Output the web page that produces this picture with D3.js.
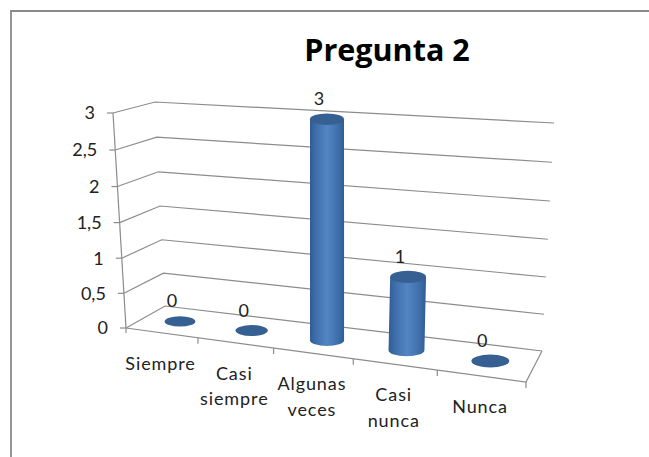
<!DOCTYPE html>
<html>
<head>
<meta charset="utf-8">
<script src="https://cdnjs.cloudflare.com/ajax/libs/d3/7.8.5/d3.min.js"></script>
<style>
  body { margin: 0; background: #fff; }
  text { font-family: Lato, "Open Sans", sans-serif; fill: #222; }
</style>
</head>
<body>
<div id="chart"></div>
<script>
let width = 649, height = 457;

// values
let categories = ["Siempre", "Casi siempre", "Algunas veces", "Casi nunca", "Nunca"];
let categoryLines = [["Siempre"], ["Casi", "siempre"], ["Algunas", "veces"], ["Casi", "nunca"], ["Nunca"]];
let values = [0, 0, 3, 1, 0];
let yTicks = [0, 0.5, 1, 1.5, 2, 2.5, 3];

let svg = d3.select("#chart").append("svg")
    .attr("width", width)
    .attr("height", height);

// the 3d box as seen in the picture: floor and ceiling corners
// order: front left, front right, back right, back left
let floorQuad = [[126, 328], [526, 382], [542, 351], [165, 306]];
let topQuad = [[113, 113], [540, 142], [554, 123], [155, 102]];
let perspective = 1.14;  // categories get wider towards the right
let perspectiveY = 1.04; // and the grid spacing grows a little going up

function quadPoint(q, f, depth) {
    let fx = q[0][0] + (q[1][0] - q[0][0]) * f, fy = q[0][1] + (q[1][1] - q[0][1]) * f;
    let bx = q[3][0] + (q[2][0] - q[3][0]) * f, by = q[3][1] + (q[2][1] - q[3][1]) * f;
    return [fx + (bx - fx) * depth, fy + (by - fy) * depth];
}

// scales work in box units, project() turns them into pixels
let x = d3.scaleBand().domain(categories).range([0, 1]);
let y = d3.scaleLinear().domain([0, 3]).range([0, 1]);

function project(u, depth, value) {
    let f = u / (u + perspective * (1 - u));
    let a = quadPoint(floorQuad, f, depth), b = quadPoint(topQuad, f, depth);
    let t = y(value);
    t = t / (t + perspectiveY * (1 - t));
    return [a[0] + (b[0] - a[0]) * t, a[1] + (b[1] - a[1]) * t];
}

let line = d3.line();
let gridColor = "#8c8c8c";

function drawLine(points) {
    svg.append("path")
        .attr("d", line(points))
        .attr("fill", "none")
        .attr("stroke", gridColor)
        .attr("stroke-width", 1.2);
}

// gridlines on the left and the back wall
yTicks.forEach(function(t) {
    drawLine([project(0, 0, t), project(0, 1, t), project(1, 1, t)]);
    let p = project(0, 0, t);
    drawLine([p, [p[0] - 6, p[1]]]);
});

// front left axis, floor edges
drawLine([project(0, 0, 0), project(0, 0, 3)]);
drawLine([project(0, 0, 0), project(1, 0, 0), project(1, 1, 0)]);

// category ticks
categories.forEach(function(c) {
    let p = project(x(c) + x.bandwidth(), 0, 0);
    drawLine([p, [p[0], p[1] + 6]]);
});
let first = project(0, 0, 0);
drawLine([first, [first[0], first[1] + 5]]);

// y labels
let yLabels = yTicks.map(function(t) { return String(t).replace(".", ","); });
yTicks.forEach(function(t, i) {
    let p = project(0, 0, t);
    svg.append("text")
        .attr("x", p[0] - 18)
        .attr("y", p[1])
        .attr("dy", "0.36em")
        .attr("text-anchor", "end")
        .style("font-size", "18px")
        .text(yLabels[i]);
});

// category labels
categories.forEach(function(c, i) {
    let p = project(x(c) + x.bandwidth() / 2, 0, 0);
    let label = svg.append("text")
        .attr("text-anchor", "middle")
        .style("font-size", "18px")
        .style("letter-spacing", "0.9px");
    categoryLines[i].forEach(function(l, j) {
        label.append("tspan")
            .attr("x", p[0] - 1)
            .attr("y", p[1] + 37 + j * 25.5)
            .text(l);
    });
});

// cylinder shading
let defs = svg.append("defs");
let grad = defs.append("linearGradient").attr("id", "body");
grad.append("stop").attr("offset", "0%").attr("stop-color", "#2f5d94");
grad.append("stop").attr("offset", "18%").attr("stop-color", "#3f6fab");
grad.append("stop").attr("offset", "50%").attr("stop-color", "#5384c4");
grad.append("stop").attr("offset", "82%").attr("stop-color", "#3f6fab");
grad.append("stop").attr("offset", "100%").attr("stop-color", "#2f5d94");

let barRatio = 0.44;

categories.forEach(function(c, i) {
    let u = x(c) + x.bandwidth() / 2;
    let base = project(u, 0.5, 0);
    let top = project(u, 0.5, values[i]);
    let left = project(u - x.bandwidth() * barRatio / 2, 0.5, 0);
    let right = project(u + x.bandwidth() * barRatio / 2, 0.5, 0);
    let rx = (right[0] - left[0]) / 2;
    let ry = rx * 0.34;

    if (values[i] > 0) {
        svg.append("path")
            .attr("d", "M" + (base[0] - rx) + "," + base[1]
                + "A" + rx + "," + ry + " 0 0 0 " + (base[0] + rx) + "," + base[1]
                + "L" + (top[0] + rx) + "," + top[1]
                + "L" + (top[0] - rx) + "," + top[1] + "Z")
            .attr("fill", "url(#body)");
    }
    svg.append("ellipse")
        .attr("cx", top[0])
        .attr("cy", top[1])
        .attr("rx", rx)
        .attr("ry", ry)
        .attr("fill", "#376092");

    svg.append("text")
        .attr("x", top[0] - 8)
        .attr("y", top[1] - 20.5)
        .attr("dy", "0.36em")
        .attr("text-anchor", "middle")
        .style("font-size", "18px")
        .text(values[i]);
});

// title
svg.append("text")
    .attr("x", 387)
    .attr("y", 61)
    .attr("text-anchor", "middle")
    .style("font-family", "'Open Sans', sans-serif")
    .style("font-size", "30.5px")
    .style("font-weight", "bold")
    .style("fill", "#000")
    .text("Pregunta 2");

// outer chart frame
svg.append("path")
    .attr("d", line([[11, height], [11, 11], [width, 11]]))
    .attr("fill", "none")
    .attr("stroke", "#8a8a8a")
    .attr("stroke-width", 1.8);
</script>
</body>
</html>
